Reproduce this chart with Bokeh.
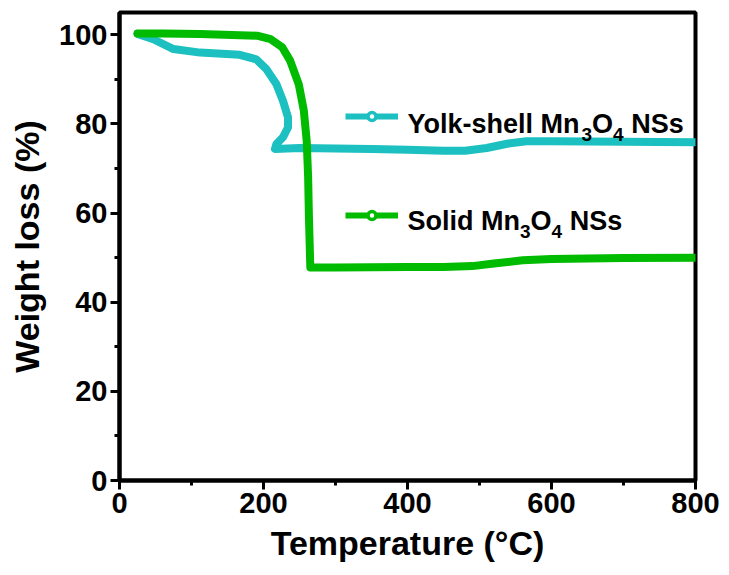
from bokeh.plotting import figure
from bokeh.models import Legend, LegendItem, Label, Range1d, FixedTicker
from bokeh.embed import file_html
from bokeh.resources import INLINE

# ---- data ----
yolk_T = [25, 47, 75, 112, 167, 190, 204, 218, 227, 234, 234, 227, 218, 216,
          250, 300, 350, 400, 450, 480, 510, 540, 565, 600, 700, 800]
yolk_W = [100.2, 99.0, 96.8, 96.0, 95.5, 94.5, 92.3, 88.9, 85.2, 81.5, 79.2, 77.0, 75.5, 74.4,
          74.6, 74.5, 74.4, 74.2, 74.0, 74.0, 74.6, 75.6, 76.1, 76.1, 76.0, 75.9]

solid_T = [25, 60, 112, 191, 210, 226, 237, 249, 256, 260, 262, 263, 264, 265,
           275, 300, 400, 450, 490, 520, 560, 600, 700, 800]
solid_W = [100.3, 100.3, 100.2, 99.8, 99.0, 97.2, 94.2, 88.9, 83.0, 76.2, 68.0, 59.8, 53.8, 47.8,
           47.8, 47.8, 47.9, 47.9, 48.1, 48.7, 49.4, 49.7, 49.9, 50.0]

x_ticks = [0, 200, 400, 600, 800]
y_ticks = [0, 20, 40, 60, 80, 100]
x_minor = [100, 300, 500, 700]
y_minor = [10, 30, 50, 70, 90]

legend_yolk = [("Yolk-shell Mn", False), ("3", True), ("O", False), ("4", True), (" NSs", False)]
legend_solid = [("Solid Mn", False), ("3", True), ("O", False), ("4", True), (" NSs", False)]

CYAN = "#1CC0C0"
GREEN = "#00BB00"
SANS = "'Liberation Sans', Arial, sans-serif"

p = figure(width=729, height=575, output_backend="svg", toolbar_location=None,
           x_range=Range1d(0, 800), y_range=Range1d(0, 105),
           min_border_left=119, min_border_right=34, min_border_top=12, min_border_bottom=95)
p.grid.visible = False
p.outline_line_color = "black"
p.outline_line_width = 4
p.background_fill_color = "white"
p.border_fill_color = "white"

for ax, ticks, minor in ((p.xaxis[0], x_ticks, x_minor), (p.yaxis[0], y_ticks, y_minor)):
    ax.ticker = FixedTicker(ticks=ticks, minor_ticks=minor)
    ax.axis_line_width = 4
    ax.major_tick_line_width = 3
    ax.minor_tick_line_width = 3
    ax.major_tick_out = 9
    ax.major_tick_in = 0
    ax.minor_tick_out = 5
    ax.minor_tick_in = 0
    ax.major_label_text_font = SANS
    ax.major_label_text_font_style = "bold"
    ax.major_label_text_font_size = "29px"
    ax.major_label_text_color = "black"
    ax.axis_label_text_font = SANS
    ax.axis_label_text_font_style = "bold"
    ax.axis_label_text_font_size = "34px"
    ax.axis_label_text_color = "black"
    ax.major_label_standoff = 3

p.xaxis.axis_label = "Temperature (\u00b0C)"
p.yaxis.axis_label = "Weight loss (%)"
p.xaxis.axis_label_standoff = 8
p.yaxis.axis_label_standoff = 10

p.line(yolk_T, yolk_W, line_color=CYAN, line_width=8, line_cap="round", line_join="round")
p.line(solid_T, solid_W, line_color=GREEN, line_width=8, line_cap="round", line_join="round")

NAN = float("nan")

def legend_for(color, loc):
    lr = p.line([NAN, NAN], [NAN, NAN], line_color=color, line_width=6)
    mr = p.scatter([NAN], [NAN], marker="circle", fill_color="white", line_color=color, line_width=3.5)
    leg = Legend(items=[LegendItem(label=" ", renderers=[lr, mr])], location=loc,
                 glyph_width=53, glyph_height=20, label_text_font_size="1px",
                 label_standoff=0, label_width=0, padding=0, margin=0, spacing=0,
                 border_line_alpha=0, background_fill_alpha=0)
    p.add_layout(leg)

# legend glyph positions (frame pixels from bottom-left)
legend_for(CYAN, (226, 354))
legend_for(GREEN, (226, 255))

# Arial/Liberation Sans Bold advance widths (per em)
ADV = {"Y": .667, "o": .611, "l": .278, "k": .556, "-": .333, "s": .556, "h": .611, "e": .556,
       " ": .278, "M": .833, "n": .611, "S": .667, "i": .278, "d": .611, "O": .778, "N": .722,
       "3": .556, "4": .556}

def put_rich(pieces, cx, cy, size, sub_size, sub_drop):
    x = cx
    for txt, sub in pieces:
        s = sub_size if sub else size
        lead = len(txt) - len(txt.lstrip(" "))
        x += lead * ADV[" "] * s
        body = txt.lstrip(" ")
        p.add_layout(Label(x=x - 119, y=480 - (cy + (sub_drop if sub else 0)),
                           x_units="screen", y_units="screen", text=body,
                           text_font=SANS, text_font_style="bold", text_font_size=f"{s}px",
                           text_color="black", text_baseline="alphabetic"))
        x += sum(ADV.get(c, .6) for c in body) * s

put_rich(legend_yolk, 407, 123, 27, 19, 11)
put_rich(legend_solid, 407, 220, 27, 19, 11)

open("out.html", "w").write(file_html(p, INLINE))
